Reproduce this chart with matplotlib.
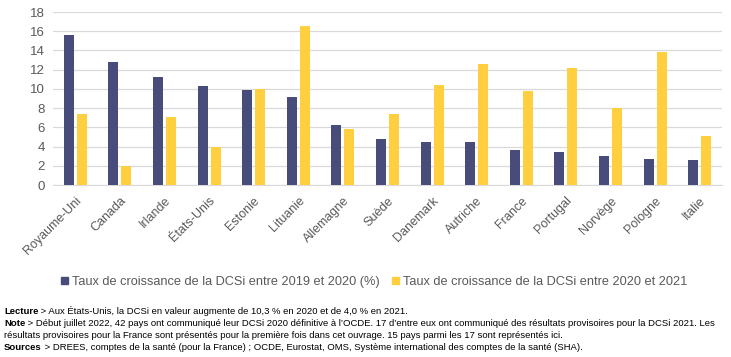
import matplotlib.pyplot as plt
import numpy as np
from matplotlib.patches import Patch

plt.rcParams['font.family'] = ['Liberation Sans', 'DejaVu Sans']

pays = ['Royaume-Uni', 'Canada', 'Irlande', 'États-Unis', 'Estonie', 'Lituanie',
        'Allemagne', 'Suède', 'Danemark', 'Autriche', 'France', 'Portugal',
        'Norvège', 'Pologne', 'Italie']
croissance_2020 = [15.6, 12.8, 11.2, 10.3, 9.9, 9.2, 6.2, 4.8, 4.5, 4.5, 3.6, 3.4, 3.0, 2.7, 2.6]
croissance_2021 = [7.4, 2.0, 7.1, 4.0, 10.0, 16.5, 5.8, 7.4, 10.4, 12.6, 9.8, 12.2, 8.0, 13.8, 5.1]

c_dark = '#484C7A'
c_yel = '#FFCF3F'
grey = '#595959'

fig = plt.figure(figsize=(7.31, 3.57), dpi=100)
ax = fig.add_axes([53/731, 1-185/357, 669/731, 173/357])

x = np.arange(len(pays))
ax.bar(x - 0.145, croissance_2020, width=0.225, color=c_dark, zorder=3)
ax.bar(x + 0.145, croissance_2021, width=0.225, color=c_yel, zorder=3)

ax.set_xlim(-0.5, len(pays) - 0.5)
ax.set_ylim(0, 18)
ax.set_yticks(range(0, 19, 2))
ax.yaxis.grid(True, color='#D9D9D9', linewidth=0.9, zorder=0)
for s in ['top', 'right', 'left']:
    ax.spines[s].set_visible(False)
ax.spines['bottom'].set_color('#D9D9D9')
ax.tick_params(axis='y', length=0, labelsize=9.5, labelcolor=grey, pad=6)
ax.tick_params(axis='x', length=0, labelsize=9, labelcolor=grey, pad=7)
ax.set_xticks(x)
ax.set_xticklabels(pays, rotation=45, ha='right', rotation_mode='anchor')

handles = [Patch(color=c_dark), Patch(color=c_yel)]
labels = ['Taux de croissance de la DCSi entre 2019 et 2020 (%)',
          'Taux de croissance de la DCSi entre 2020 et 2021']
fig.legend(handles, labels, loc='center', bbox_to_anchor=(374/731, 1-282/357), ncol=2,
           frameon=False, fontsize=9.2, handlelength=0.55, handleheight=0.55,
           handletextpad=0.35, columnspacing=0.9, labelcolor=grey)

# notes sous le graphique
notes = [
    ('Lecture', ' > Aux États-Unis, la DCSi en valeur augmente de 10,3 % en 2020 et de 4,0 % en 2021.', 311),
    ('Note', ' > Début juillet 2022, 42 pays ont communiqué leur DCSi 2020 définitive à l\u2019OCDE. 17 d\u2019entre eux ont communiqué des résultats provisoires pour la DCSi 2021. Les', 323),
    ('', 'résultats provisoires pour la France sont présentés pour la première fois dans cet ouvrage. 15 pays parmi les 17 sont représentés ici.', 335),
    ('Sources', ' > DREES, comptes de la santé (pour la France) ; OCDE, Eurostat, OMS, Système international des comptes de la santé (SHA).', 347),
]
renderer = fig.canvas.get_renderer()
fam = ['Liberation Sans Narrow', 'Liberation Sans', 'DejaVu Sans']
for bold, rest, ypix in notes:
    x0 = 4 / 731
    y0 = 1 - ypix / 357
    if bold:
        t = fig.text(x0, y0, bold, fontsize=6.8, fontweight='bold', family=fam, va='center', color='black')
        bb = t.get_window_extent(renderer)
        x0 = bb.x1 / fig.bbox.width
    fig.text(x0, y0, rest, fontsize=6.8, family=fam, va='center', color='black')

fig.savefig('out.png', dpi=100)
